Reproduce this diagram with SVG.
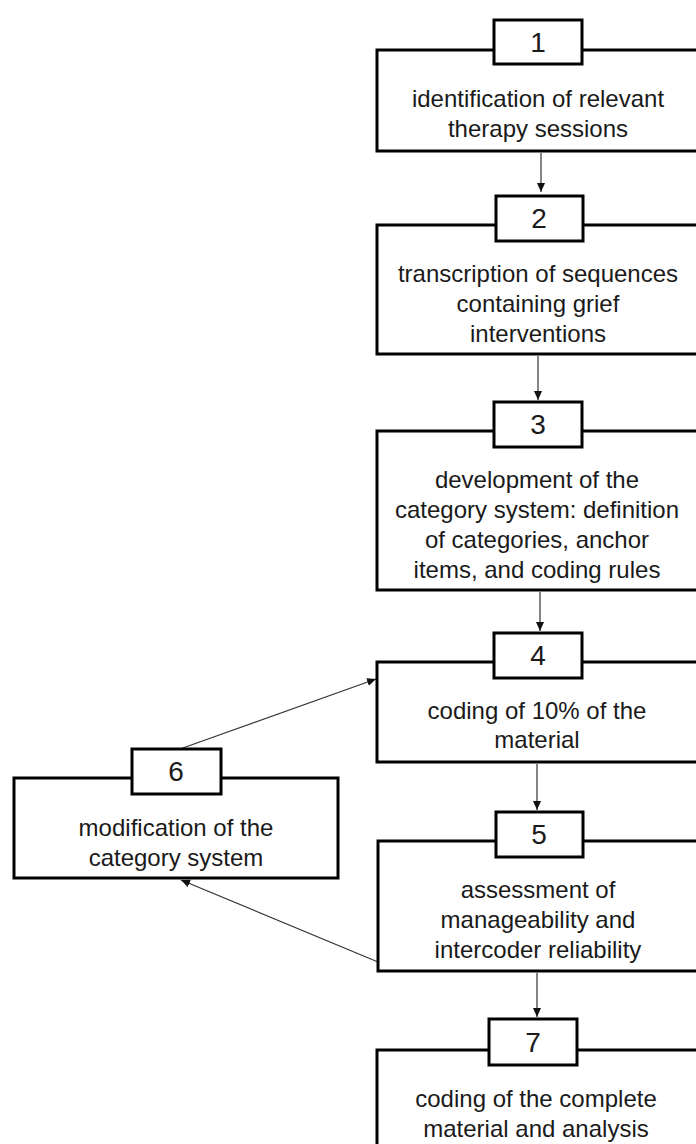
<svg xmlns="http://www.w3.org/2000/svg" width="696" height="1144" viewBox="0 0 696 1144">
<defs>
<marker id="ah" markerUnits="userSpaceOnUse" markerWidth="10" markerHeight="8" refX="9" refY="4" orient="auto">
<path d="M0,0 L9,4 L0,8 Z" fill="#111"/>
</marker>
<style>
.box{fill:#fff;stroke:#000;stroke-width:3}
.num{font-family:"Liberation Sans",Arial,sans-serif;font-size:28px;fill:#1a1a1a;text-anchor:middle}
.txt{font-family:"Liberation Sans",Arial,sans-serif;font-size:24px;fill:#1a1a1a;text-anchor:middle}
.con{stroke:#333;stroke-width:1.2;fill:none;marker-end:url(#ah)}
</style>
</defs>
<rect width="696" height="1144" fill="#fff"/>
<g id="connectors">
<line class="con" x1="541" y1="153" x2="541" y2="192"/>
<line class="con" x1="538" y1="356" x2="538" y2="400"/>
<line class="con" x1="540" y1="592" x2="540" y2="631"/>
<line class="con" x1="537" y1="764" x2="537" y2="810"/>
<line class="con" x1="537" y1="973" x2="537" y2="1017"/>
<line class="con" x1="180" y1="749" x2="376" y2="679"/>
<line class="con" x1="378" y1="962" x2="181" y2="880"/>
</g>
<g id="node1">
<rect class="box" x="377" y="50" width="340" height="101"/>
<rect class="box" x="494" y="20" width="88" height="44"/>
<text class="num" x="538" y="52">1</text>
<text class="txt" x="538" y="107">identification of relevant</text>
<text class="txt" x="538" y="137">therapy sessions</text>
</g>
<g id="node2">
<rect class="box" x="377" y="225" width="340" height="129"/>
<rect class="box" x="496" y="196" width="87" height="45"/>
<text class="num" x="539" y="228">2</text>
<text class="txt" x="538" y="282">transcription of sequences</text>
<text class="txt" x="538" y="312">containing grief</text>
<text class="txt" x="538" y="342">interventions</text>
</g>
<g id="node3">
<rect class="box" x="377" y="431" width="340" height="159"/>
<rect class="box" x="494" y="402" width="88" height="45"/>
<text class="num" x="538" y="434">3</text>
<text class="txt" x="537" y="488">development  of the</text>
<text class="txt" x="537" y="518">category system: definition</text>
<text class="txt" x="537" y="548">of categories, anchor</text>
<text class="txt" x="537" y="578">items, and coding rules</text>
</g>
<g id="node4">
<rect class="box" x="377" y="662" width="340" height="100"/>
<rect class="box" x="494" y="633" width="88" height="45"/>
<text class="num" x="538" y="665">4</text>
<text class="txt" x="537" y="719">coding of 10% of the</text>
<text class="txt" x="537" y="748">material</text>
</g>
<g id="node5">
<rect class="box" x="378" y="841" width="340" height="130"/>
<rect class="box" x="496" y="812" width="87" height="45"/>
<text class="num" x="539" y="844">5</text>
<text class="txt" x="538" y="898">assessment of</text>
<text class="txt" x="538" y="928">manageability and</text>
<text class="txt" x="538" y="958">intercoder reliability</text>
</g>
<g id="node6">
<rect class="box" x="14" y="778" width="324" height="100"/>
<rect class="box" x="132" y="749" width="89" height="45"/>
<text class="num" x="176" y="781">6</text>
<text class="txt" x="176" y="836">modification  of the</text>
<text class="txt" x="176" y="866">category system</text>
</g>
<g id="node7">
<rect class="box" x="377" y="1050" width="340" height="120"/>
<rect class="box" x="489" y="1019" width="88" height="46"/>
<text class="num" x="533" y="1052">7</text>
<text class="txt" x="536" y="1107">coding of the complete</text>
<text class="txt" x="536" y="1137">material and analysis</text>
</g>
</svg>
